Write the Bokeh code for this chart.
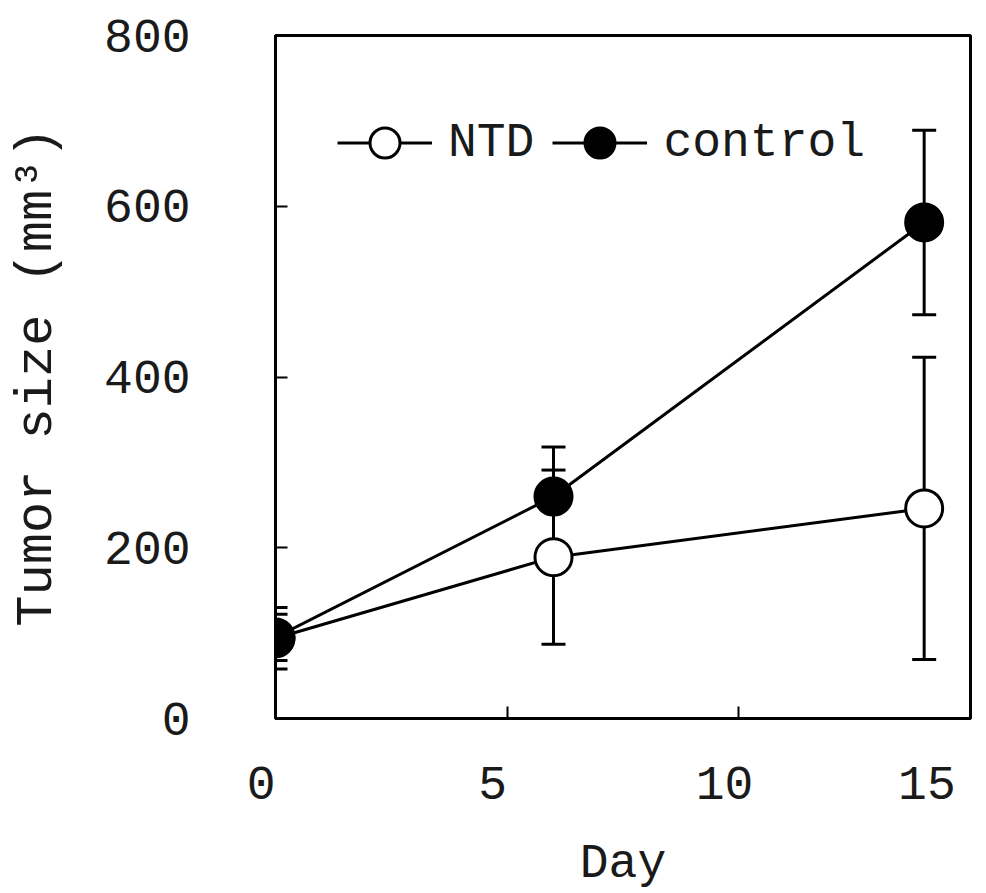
from bokeh.plotting import figure
from bokeh.models import ColumnDataSource, Whisker, TeeHead, Legend, LegendItem, FixedTicker, Range1d
from bokeh.embed import file_html
from bokeh.resources import INLINE

# ---- data ----
days = [0, 6, 14]
ntd_mean = [94, 189, 246]
ntd_err = [36, 102, 177]
ctrl_mean = [95, 260, 581]
ctrl_err = [27, 58, 108]
x_ticks = [0, 5, 10, 15]
x_tick_labels = ["0", "5", "10", "15"]
y_ticks = [0, 200, 400, 600, 800]

FONT = "Liberation Mono"
FS = "48px"
TXT = "#1a1a1a"

p = figure(width=984, height=893, output_backend="svg", toolbar_location=None,
           x_range=Range1d(0, 15), y_range=Range1d(0, 800),
           min_border_left=275, min_border_right=14, min_border_top=35, min_border_bottom=175)
p.background_fill_color = "white"
p.border_fill_color = "white"
p.grid.visible = False
p.outline_line_color = "black"
p.outline_line_width = 3
p.outline_line_alpha = 1

for ax in (p.xaxis[0], p.yaxis[0]):
    ax.major_tick_in = 12
    ax.major_tick_out = 0
    ax.minor_tick_in = 0
    ax.minor_tick_out = 0
    ax.axis_line_width = 3
    ax.axis_line_color = "black"
    ax.major_tick_line_width = 2
    ax.major_tick_line_color = "black"
    ax.major_label_text_font = FONT
    ax.major_label_text_font_size = FS
    ax.major_label_text_color = TXT
    ax.axis_label_text_font = FONT
    ax.axis_label_text_font_size = FS
    ax.axis_label_text_font_style = "normal"
    ax.axis_label_text_color = TXT

p.xaxis.ticker = FixedTicker(ticks=x_ticks)
p.xaxis.major_label_overrides = {t: lab + "\u00a0" for t, lab in zip(x_ticks, x_tick_labels)}
p.yaxis.ticker = FixedTicker(ticks=y_ticks)
p.xaxis.major_label_standoff = 40
p.yaxis.major_label_standoff = 85
p.xaxis.axis_label = "Day"
p.yaxis.axis_label = "Tumor size (mm³)"
p.yaxis.axis_label_text_font_size = "52px"
p.xaxis.axis_label_standoff = 21
p.yaxis.axis_label_standoff = 34

ntd_src = ColumnDataSource(dict(x=days, y=ntd_mean,
                                up=[m + e for m, e in zip(ntd_mean, ntd_err)],
                                lo=[m - e for m, e in zip(ntd_mean, ntd_err)]))
ctrl_src = ColumnDataSource(dict(x=days, y=ctrl_mean,
                                 up=[m + e for m, e in zip(ctrl_mean, ctrl_err)],
                                 lo=[m - e for m, e in zip(ctrl_mean, ctrl_err)]))

for src in (ntd_src, ctrl_src):
    w = Whisker(source=src, base="x", upper="up", lower="lo", dimension="height",
                line_width=3, line_color="black",
                upper_head=TeeHead(size=24, line_width=3, line_color="black"),
                lower_head=TeeHead(size=24, line_width=3, line_color="black"))
    p.add_layout(w)

l_ctrl = p.line("x", "y", source=ctrl_src, line_width=3, line_color="black")
l_ntd = p.line("x", "y", source=ntd_src, line_width=3, line_color="black")
s_ntd = p.scatter("x", "y", source=ntd_src, size=37, marker="circle",
                  fill_color="white", line_color="black", line_width=3)
s_ctrl = p.scatter("x", "y", source=ctrl_src, size=37, marker="circle",
                   fill_color="black", line_color="black", line_width=3)

legend = Legend(items=[LegendItem(label="NTD", renderers=[l_ntd, s_ntd]),
                       LegendItem(label="control", renderers=[l_ctrl, s_ctrl])],
                orientation="horizontal", location=(62, 538),
                glyph_width=95, glyph_height=75, label_standoff=16, spacing=18,
                padding=0, margin=0, border_line_color=None,
                background_fill_alpha=0,
                label_text_font=FONT, label_text_font_size=FS,
                label_text_color=TXT, label_text_baseline="middle")
p.add_layout(legend)

open("out.html", "w").write(file_html(p, INLINE))
